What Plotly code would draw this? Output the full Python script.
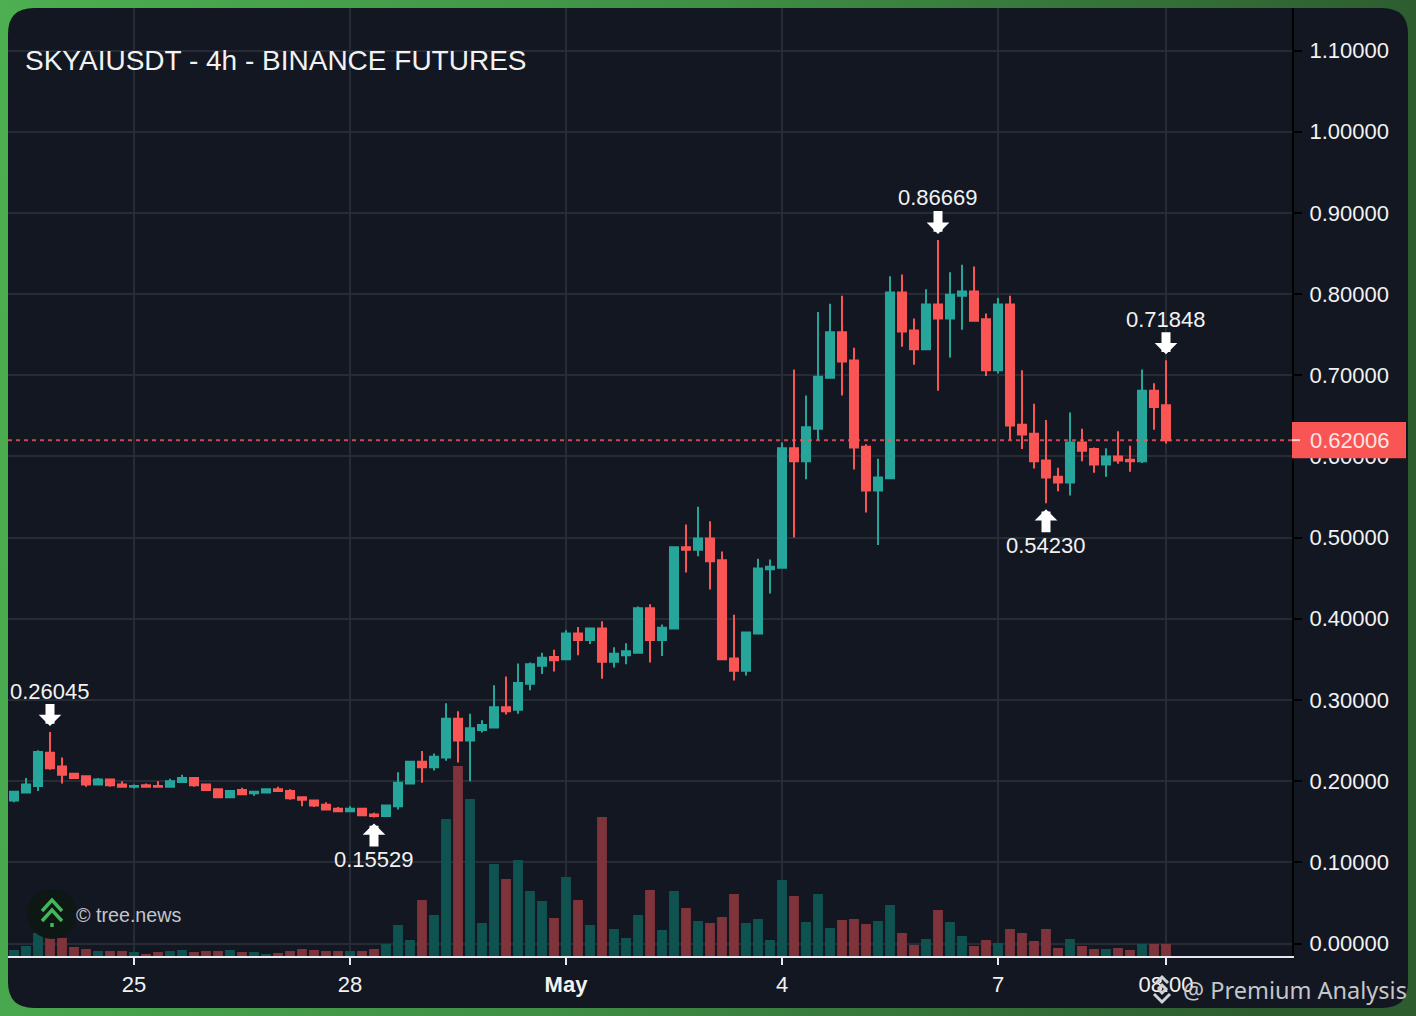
import base64
import pandas as pd
import plotly.graph_objects as go

BG = '#131722'
UP = '#26a69a'
DOWN = '#fa5555'
VOL_UP = '#0f5350'
VOL_DOWN = '#7e343a'
GRID = '#272b35'
FONT = 'Liberation Sans'

dates = pd.date_range('2025-04-23 08:00', periods=97, freq='4h')

opens = [.176, .186, .194, .235, .218, .209, .206, .196, .202, .196,
         .193, .195, .194, .193, .199, .204, .196, .190, .180, .189,
         .185, .186, .190, .188, .180, .176, .171, .166, .163, .166,
         .159, .157, .169, .197, .224, .217, .229, .277, .250, .263,
         .266, .291, .288, .320, .342, .353, .350, .382, .374, .388,
         .347, .355, .358, .413, .374, .388, .488, .485, .499, .472,
         .351, .336, .382, .461, .463, .610, .594, .634, .697, .753,
         .718, .612, .558, .573, .802, .755, .732, .787, .770, .798,
         .803, .769, .706, .787, .639, .628, .595, .575, .568, .617,
         .609, .590, .600, .596, .594, .681, .663]
highs = [.188, .204, .238, .26045, .229, .210, .207, .204, .203, .200,
         .196, .197, .200, .203, .208, .205, .197, .191, .189, .192,
         .188, .191, .193, .190, .181, .177, .174, .168, .169, .167,
         .161, .171, .211, .225, .237, .234, .296, .286, .283, .275,
         .318, .329, .345, .346, .358, .362, .386, .390, .389, .397,
         .365, .370, .415, .418, .393, .488, .516, .538, .520, .483,
         .405, .384, .474, .473, .617, .707, .675, .778, .788, .798,
         .734, .615, .597, .822, .824, .770, .806, .86669, .827, .836,
         .834, .776, .795, .798, .706, .665, .645, .586, .654, .634,
         .611, .610, .631, .613, .707, .690, .71848]
lows = [.174, .185, .188, .214, .197, .203, .193, .195, .193, .192,
        .191, .192, .192, .192, .198, .193, .188, .179, .179, .183,
        .182, .185, .187, .177, .169, .168, .164, .162, .162, .157,
        .15529, .156, .165, .196, .198, .213, .225, .223, .200, .260,
        .266, .282, .283, .312, .332, .335, .349, .355, .369, .326,
        .340, .344, .357, .346, .354, .387, .457, .477, .436, .349,
        .324, .330, .381, .431, .462, .500, .572, .620, .696, .675,
        .584, .531, .491, .573, .735, .713, .731, .681, .722, .756,
        .766, .699, .702, .620, .609, .585, .54230, .557, .552, .594,
        .580, .575, .591, .581, .592, .633, .616]
closes = [.187, .196, .236, .216, .208, .204, .196, .202, .195, .193,
          .194, .193, .193, .200, .204, .195, .189, .180, .188, .184,
          .187, .190, .188, .179, .177, .170, .165, .163, .166, .158,
          .157, .170, .198, .224, .217, .230, .277, .250, .265, .269,
          .291, .286, .321, .344, .352, .349, .382, .374, .388, .347,
          .357, .360, .413, .374, .389, .488, .485, .499, .471, .350,
          .336, .383, .462, .464, .610, .594, .636, .698, .753, .717,
          .611, .558, .574, .802, .754, .732, .787, .770, .799, .803,
          .767, .706, .787, .638, .627, .594, .574, .568, .617, .607,
          .590, .600, .595, .594, .681, .661, .62006]
volumes = [6, 10, 23, 18, 18, 9, 7, 5, 5, 5,
           4, 2, 4, 5, 6, 4, 5, 5, 6, 4,
           4, 2, 3, 5, 7, 6, 5, 5, 5, 5,
           7, 12, 31, 16, 56, 41, 137, 190, 157, 33,
           92, 77, 96, 65, 55, 38, 79, 56, 31, 139,
           27, 18, 41, 66, 26, 65, 48, 35, 33, 39,
           62, 33, 37, 16, 76, 60, 34, 62, 28, 36,
           37, 32, 35, 51, 23, 11, 17, 46, 34, 20,
           10, 16, 13, 27, 23, 15, 27, 8, 17, 10,
           7, 7, 8, 6, 12, 12, 12]

price_ticks = [0, .1, .2, .3, .4, .5, .6, .7, .8, .9, 1.0, 1.1]
date_ticks = ['2025-04-25', '2025-04-28', '2025-05-01', '2025-05-04', '2025-05-07', '2025-05-09 08:00']
date_labels = ['25', '28', '<b>May</b>', '4', '7', '08:00']

last_price = 0.62006

# swing points marked on the chart: candle index, price, label offset
swing_idx = [3, 30, 77, 86, 96]
swing_price = [0.26045, 0.15529, 0.86669, 0.54230, 0.71848]
swing_offset = [-41, 42, -42, 42, -41]


def px(x):
    return (x - 8) / 1284


def py(y):
    return (956 - y) / 948


def page_path(points):
    return 'M' + ' L'.join(f'{px(x)},{py(y)}' for x, y in points)


def round_panel(x0, y0, x1, y1, r):
    return (f'M{px(x0 + r)},{py(y0)} L{px(x1 - r)},{py(y0)} Q{px(x1)},{py(y0)} {px(x1)},{py(y0 + r)} '
            f'L{px(x1)},{py(y1 - r)} Q{px(x1)},{py(y1)} {px(x1 - r)},{py(y1)} '
            f'L{px(x0 + r)},{py(y1)} Q{px(x0)},{py(y1)} {px(x0)},{py(y1 - r)} '
            f'L{px(x0)},{py(y0 + r)} Q{px(x0)},{py(y0)} {px(x0 + r)},{py(y0)} Z')


fig = go.Figure()

fig.add_trace(go.Bar(
    x=dates, y=volumes, yaxis='y',
    marker=dict(color=[VOL_UP if c >= o else VOL_DOWN for o, c in zip(opens, closes)], line_width=0),
    width=4 * 3600 * 1000 * 0.82,
    hoverinfo='skip',
))
fig.add_trace(go.Candlestick(
    x=dates, open=opens, high=highs, low=lows, close=closes, yaxis='y2',
    increasing=dict(line=dict(color=UP, width=2), fillcolor=UP),
    decreasing=dict(line=dict(color=DOWN, width=2), fillcolor=DOWN),
))

# green frame with a soft left to right fade
frame_svg = ('<svg xmlns="http://www.w3.org/2000/svg" width="1416" height="1016">'
             '<defs><linearGradient id="g" x1="0" y1="0" x2="1" y2="0.12">'
             '<stop offset="0" stop-color="#4caf50"/><stop offset="0.5" stop-color="#3f8f45"/>'
             '<stop offset="1" stop-color="#2d5c2f"/></linearGradient></defs>'
             '<rect width="1416" height="1016" fill="url(#g)"/></svg>')
frame_src = 'data:image/svg+xml;base64,' + base64.b64encode(frame_svg.encode()).decode()

shapes = [
    dict(type='path', xref='paper', yref='paper', layer='below', line_width=0, fillcolor=BG,
         path=round_panel(8, 8, 1408, 1008, 26)),
    dict(type='line', xref='paper', yref='y2', x0=0, x1=px(1292), y0=last_price, y1=last_price,
         line=dict(color=DOWN, width=2, dash='4px,4px'), opacity=0.8),
    # last price tag on the axis
    dict(type='rect', xref='paper', yref='y2', x0=px(1292), x1=px(1406),
         y0=last_price - 0.0222, y1=last_price + 0.0222, fillcolor=DOWN, line_width=0),
    dict(type='line', xref='paper', yref='y2', x0=px(1292), x1=px(1300), y0=last_price, y1=last_price,
         line=dict(color='#ffd8d8', width=2)),
    # tree.news logo
    dict(type='circle', xref='paper', yref='paper', x0=px(27), x1=px(77), y0=py(939), y1=py(889),
         fillcolor='#0d1714', line_width=0),
]
for pts in ([(42, 911), (52, 900), (62, 911)], [(42, 921), (52, 910), (62, 921)], [(52, 923), (52, 927)]):
    shapes.append(dict(type='path', xref='paper', yref='paper', path=page_path(pts),
                       line=dict(color='#43b55b', width=3.5)))
# exchange logo under the watermark
for pts in ([(1156, 983), (1162, 977), (1168, 983)], [(1154, 994), (1162, 1002), (1170, 994)],
            [(1158, 989), (1162, 985), (1166, 989), (1162, 993), (1158, 989)]):
    shapes.append(dict(type='path', xref='paper', yref='paper', path=page_path(pts),
                       line=dict(color='#cfd2d6', width=3)))

annotations = [
    dict(text='SKYAIUSDT - 4h - BINANCE FUTURES', xref='paper', yref='paper', x=px(23), y=py(60.5),
         xanchor='left', yanchor='middle', showarrow=False, font=dict(size=28, color='#f2f2f2')),
    dict(text='© tree.news', xref='paper', yref='paper', x=px(74), y=py(915),
         xanchor='left', yanchor='middle', showarrow=False, font=dict(size=19.7, color='#c4c6ca')),
    dict(text='@ Premium Analysis', xref='paper', yref='paper', x=px(1409), y=py(989.5),
         xanchor='right', yanchor='middle', showarrow=False,
         font=dict(family='Noto Sans', size=23.5, color='#c4c6ca')),
    dict(text=f'{last_price:.5f}', xref='paper', yref='y2', x=px(1349.5), y=last_price,
         xanchor='center', yanchor='middle', showarrow=False,
         font=dict(size=22, color='#ffe4e4')),
]
for i, price, off in zip(swing_idx, swing_price, swing_offset):
    annotations.append(dict(
        text=f'{price:.5f}', x=dates[i], y=price, xref='x', yref='y2',
        ax=0, ay=off, axref='pixel', ayref='pixel', borderpad=0,
        showarrow=True, arrowhead=1, arrowsize=0.42, arrowwidth=9, arrowcolor='white', standoff=6,
        font=dict(size=22, color='#f2f2f2'),
    ))

fig.update_layout(
    width=1416, height=1016,
    margin=dict(l=8, r=124, t=8, b=60, autoexpand=False),
    paper_bgcolor='#3f8f45',
    plot_bgcolor='rgba(0,0,0,0)',
    showlegend=False,
    boxgap=0.33, boxgroupgap=0,
    font=dict(family=FONT, size=22, color='#f2f2f2'),
    hovermode=False,
    images=[dict(source=frame_src, xref='paper', yref='paper', x=px(0), y=py(0),
                 sizex=1416 / 1284, sizey=1016 / 948, xanchor='left', yanchor='top',
                 sizing='stretch', layer='below')],
    shapes=shapes,
    annotations=annotations,
    xaxis=dict(
        type='date',
        range=[dates[0] - pd.Timedelta(hours=2), dates[0] + pd.Timedelta(hours=426)],
        rangeslider=dict(visible=False),
        tickvals=date_ticks, ticktext=date_labels, tickangle=0,
        showgrid=True, gridcolor=GRID, gridwidth=2,
        showline=True, linecolor='#e8e8ee', linewidth=2,
        ticks='outside', ticklen=7, tickcolor='#e8e8ee', tickwidth=2,
        ticklabelstandoff=1,
        zeroline=False,
    ),
    yaxis=dict(range=[0, 948], visible=False, fixedrange=True),
    yaxis2=dict(
        overlaying='y', side='right', anchor='x',
        range=[-0.0154, 1.15237],
        tickvals=price_ticks, tickformat='.5f',
        showgrid=True, gridcolor=GRID, gridwidth=2,
        showline=True, linecolor='black', linewidth=2,
        ticks='outside', ticklen=8, tickcolor='black', tickwidth=2,
        ticklabelstandoff=3,
        zeroline=False,
    ),
)

fig.write_html('out.html', config=dict(displayModeBar=False),
               post_script="document.body.style.margin='0';document.documentElement.style.overflow='hidden';")
